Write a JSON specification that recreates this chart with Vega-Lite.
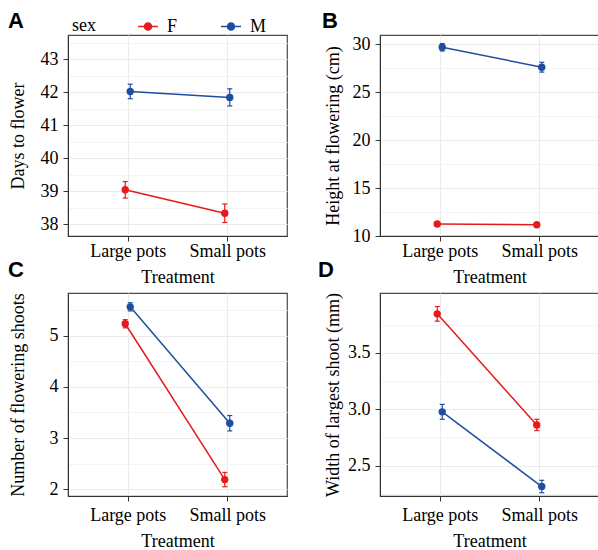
{
  "$schema": "https://vega.github.io/schema/vega-lite/v6.json",
  "padding": {"left": 7, "top": 9, "right": 0, "bottom": 0},
  "background": "white",
  "config": {
    "font": "Liberation Serif",
    "view": {"stroke": "#4d4d4d", "strokeWidth": 1.2},
    "axis": {
      "labelFont": "Liberation Serif", "labelFontSize": 18, "labelColor": "#000",
      "titleFont": "Liberation Serif", "titleFontSize": 18, "titleFontWeight": "normal", "titleColor": "#000",
      "domainColor": "#333", "domainWidth": 1, "tickColor": "#333", "tickSize": 5, "tickWidth": 1,
      "gridColor": "#ebebeb", "gridWidth": 1
    },
    "axisX": {"labelAngle": 0, "labelPadding": 1, "titleBaseline": "alphabetic", "grid": true},
    "axisY": {"labelPadding": 5, "titleBaseline": "alphabetic"},
    "legend": {"labelFont": "Liberation Serif", "titleFont": "Liberation Serif"},
    "title": {"font": "Liberation Sans", "fontSize": 22, "fontWeight": "bold", "color": "#000", "anchor": "start", "frame": "group", "baseline": "alphabetic"}
  },
  "data": {"values": [
    {"panel": "A", "treatment": "Large pots", "sex": "F", "mean": 39.04, "lo": 38.79, "hi": 39.29},
    {"panel": "A", "treatment": "Small pots", "sex": "F", "mean": 38.33, "lo": 38.05, "hi": 38.61},
    {"panel": "A", "treatment": "Large pots", "sex": "M", "mean": 42.02, "lo": 41.80, "hi": 42.24},
    {"panel": "A", "treatment": "Small pots", "sex": "M", "mean": 41.84, "lo": 41.58, "hi": 42.10},
    {"panel": "B", "treatment": "Large pots", "sex": "F", "mean": 11.25, "lo": 11.12, "hi": 11.38},
    {"panel": "B", "treatment": "Small pots", "sex": "F", "mean": 11.17, "lo": 11.04, "hi": 11.30},
    {"panel": "B", "treatment": "Large pots", "sex": "M", "mean": 29.69, "lo": 29.3, "hi": 30.08},
    {"panel": "B", "treatment": "Small pots", "sex": "M", "mean": 27.61, "lo": 27.1, "hi": 28.12},
    {"panel": "C", "treatment": "Large pots", "sex": "F", "mean": 5.23, "lo": 5.15, "hi": 5.31},
    {"panel": "C", "treatment": "Small pots", "sex": "F", "mean": 2.19, "lo": 2.05, "hi": 2.33},
    {"panel": "C", "treatment": "Large pots", "sex": "M", "mean": 5.56, "lo": 5.48, "hi": 5.64},
    {"panel": "C", "treatment": "Small pots", "sex": "M", "mean": 3.29, "lo": 3.14, "hi": 3.44},
    {"panel": "D", "treatment": "Large pots", "sex": "F", "mean": 3.845, "lo": 3.78, "hi": 3.91},
    {"panel": "D", "treatment": "Small pots", "sex": "F", "mean": 2.86, "lo": 2.81, "hi": 2.91},
    {"panel": "D", "treatment": "Large pots", "sex": "M", "mean": 2.976, "lo": 2.91, "hi": 3.042},
    {"panel": "D", "treatment": "Small pots", "sex": "M", "mean": 2.314, "lo": 2.259, "hi": 2.369}
  ]},
  "columns": 2,
  "spacing": {"row": 57, "column": 93},
  "bounds": "flush",
  "concat": [
    {
      "width": 219, "height": 201,
      "title": {"text": "A", "dx": -60, "offset": 2},
      "transform": [{"filter": "datum.panel === 'A'"}],
      "resolve": {"axis": {"y": "independent"}},
      "encoding": {
        "x": {"field": "treatment", "type": "nominal", "scale": {"type": "point", "padding": 0.6}, "axis": {"title": "Treatment", "titleY": 46}},
        "xOffset": {"field": "sex", "type": "nominal", "scale": {"type": "point", "range": [-2.5, 2.5], "padding": 0}},
        "color": {"field": "sex", "type": "nominal", "scale": {"domain": ["F", "M"], "range": ["#E41A1C", "#1F4E9E"]},
          "legend": {"orient": "none", "legendX": 4, "legendY": -19.5, "direction": "horizontal", "title": "sex", "titleOrient": "left", "titleAngle": 0, "titleAnchor": "middle", "titleBaseline": "middle",
            "titleFontSize": 18, "titleFontWeight": "normal", "titleColor": "#000", "titlePadding": 41,
            "labelFontSize": 18, "labelColor": "#000", "labelOffset": 8, "columnPadding": 40,
            "symbolType": "M-1,0H1M-0.35,0A0.35,0.35 0 1 0 0.35,0A0.35,0.35 0 1 0 -0.35,0Z", "symbolSize": 400, "symbolStrokeWidth": 1.5, "symbolOpacity": 1}}
      },
      "layer": [
        {"mark": {"type": "rule", "strokeWidth": 1.2}, "encoding": {"y": {"field": "lo", "type": "quantitative", "scale": {"domain": [37.64, 43.73], "zero": false, "nice": false},
          "axis": {"orient": "left", "values": [38.5, 39.5, 40.5, 41.5, 42.5, 43.5], "labels": false, "ticks": false, "domain": false, "title": null, "grid": true, "gridColor": "#f4f4f4"}}, "y2": {"field": "hi"}}},
        {"mark": {"type": "line", "strokeWidth": 1.5}, "encoding": {"y": {"field": "mean", "type": "quantitative", "scale": {"domain": [37.64, 43.73], "zero": false, "nice": false},
          "axis": {"orient": "left", "title": "Days to flower", "titleX": -45, "values": [38, 39, 40, 41, 42, 43], "grid": true}}}},
        {"mark": {"type": "tick", "size": 5, "thickness": 1.2, "opacity": 1, "orient": "horizontal"}, "encoding": {"y": {"field": "lo", "type": "quantitative", "scale": {"domain": [37.64, 43.73], "zero": false, "nice": false}, "axis": null}}},
        {"mark": {"type": "tick", "size": 5, "thickness": 1.2, "opacity": 1, "orient": "horizontal"}, "encoding": {"y": {"field": "hi", "type": "quantitative", "scale": {"domain": [37.64, 43.73], "zero": false, "nice": false}, "axis": null}}},
        {"mark": {"type": "point", "filled": true, "size": 55, "opacity": 1}, "encoding": {"y": {"field": "mean", "type": "quantitative", "scale": {"domain": [37.64, 43.73], "zero": false, "nice": false}, "axis": null}}}
      ]
    },
    {
      "width": 219, "height": 201,
      "title": {"text": "B", "dx": -58, "offset": 2},
      "transform": [{"filter": "datum.panel === 'B'"}],
      "resolve": {"axis": {"y": "independent"}},
      "encoding": {
        "x": {"field": "treatment", "type": "nominal", "scale": {"type": "point", "padding": 0.6}, "axis": {"title": "Treatment", "titleY": 46}},
        "xOffset": {"field": "sex", "type": "nominal", "scale": {"type": "point", "range": [-2.5, 2.5], "padding": 0}},
        "color": {"field": "sex", "type": "nominal", "scale": {"domain": ["F", "M"], "range": ["#E41A1C", "#1F4E9E"]},
          "legend": {"orient": "none", "legendX": 4, "legendY": -19.5, "direction": "horizontal", "title": "sex", "titleOrient": "left", "titleAngle": 0, "titleAnchor": "middle", "titleBaseline": "middle",
            "titleFontSize": 18, "titleFontWeight": "normal", "titleColor": "#000", "titlePadding": 41,
            "labelFontSize": 18, "labelColor": "#000", "labelOffset": 8, "columnPadding": 40,
            "symbolType": "M-1,0H1M-0.35,0A0.35,0.35 0 1 0 0.35,0A0.35,0.35 0 1 0 -0.35,0Z", "symbolSize": 400, "symbolStrokeWidth": 1.5, "symbolOpacity": 1}}
      },
      "layer": [
        {"mark": {"type": "rule", "strokeWidth": 1.2}, "encoding": {"y": {"field": "lo", "type": "quantitative", "scale": {"domain": [10, 30.97], "zero": false, "nice": false},
          "axis": {"orient": "left", "values": [12.5, 17.5, 22.5, 27.5], "labels": false, "ticks": false, "domain": false, "title": null, "grid": true, "gridColor": "#f4f4f4"}}, "y2": {"field": "hi"}}},
        {"mark": {"type": "line", "strokeWidth": 1.5}, "encoding": {"y": {"field": "mean", "type": "quantitative", "scale": {"domain": [10, 30.97], "zero": false, "nice": false},
          "axis": {"orient": "left", "title": "Height at flowering (cm)", "titleX": -42, "values": [10, 15, 20, 25, 30], "grid": true}}}},
        {"mark": {"type": "tick", "size": 5, "thickness": 1.2, "opacity": 1, "orient": "horizontal"}, "encoding": {"y": {"field": "lo", "type": "quantitative", "scale": {"domain": [10, 30.97], "zero": false, "nice": false}, "axis": null}}},
        {"mark": {"type": "tick", "size": 5, "thickness": 1.2, "opacity": 1, "orient": "horizontal"}, "encoding": {"y": {"field": "hi", "type": "quantitative", "scale": {"domain": [10, 30.97], "zero": false, "nice": false}, "axis": null}}},
        {"mark": {"type": "point", "filled": true, "size": 55, "opacity": 1}, "encoding": {"y": {"field": "mean", "type": "quantitative", "scale": {"domain": [10, 30.97], "zero": false, "nice": false}, "axis": null}}}
      ]
    },
    {
      "width": 219, "height": 203,
      "title": {"text": "C", "dx": -60, "offset": 11},
      "transform": [{"filter": "datum.panel === 'C'"}],
      "resolve": {"axis": {"y": "independent"}},
      "encoding": {
        "x": {"field": "treatment", "type": "nominal", "scale": {"type": "point", "padding": 0.6}, "axis": {"title": "Treatment", "titleY": 50, "labelPadding": 5}},
        "xOffset": {"field": "sex", "type": "nominal", "scale": {"type": "point", "range": [-2.5, 2.5], "padding": 0}},
        "color": {"field": "sex", "type": "nominal", "scale": {"domain": ["F", "M"], "range": ["#E41A1C", "#1F4E9E"]},
          "legend": {"orient": "none", "legendX": 4, "legendY": -19.5, "direction": "horizontal", "title": "sex", "titleOrient": "left", "titleAngle": 0, "titleAnchor": "middle", "titleBaseline": "middle",
            "titleFontSize": 18, "titleFontWeight": "normal", "titleColor": "#000", "titlePadding": 41,
            "labelFontSize": 18, "labelColor": "#000", "labelOffset": 8, "columnPadding": 40,
            "symbolType": "M-1,0H1M-0.35,0A0.35,0.35 0 1 0 0.35,0A0.35,0.35 0 1 0 -0.35,0Z", "symbolSize": 400, "symbolStrokeWidth": 1.5, "symbolOpacity": 1}}
      },
      "layer": [
        {"mark": {"type": "rule", "strokeWidth": 1.2}, "encoding": {"y": {"field": "lo", "type": "quantitative", "scale": {"domain": [1.87, 5.83], "zero": false, "nice": false},
          "axis": {"orient": "left", "values": [2.5, 3.5, 4.5, 5.5], "labels": false, "ticks": false, "domain": false, "title": null, "grid": true, "gridColor": "#f4f4f4"}}, "y2": {"field": "hi"}}},
        {"mark": {"type": "line", "strokeWidth": 1.5}, "encoding": {"y": {"field": "mean", "type": "quantitative", "scale": {"domain": [1.87, 5.83], "zero": false, "nice": false},
          "axis": {"orient": "left", "title": "Number of flowering shoots", "titleX": -45, "values": [2, 3, 4, 5], "grid": true}}}},
        {"mark": {"type": "tick", "size": 5, "thickness": 1.2, "opacity": 1, "orient": "horizontal"}, "encoding": {"y": {"field": "lo", "type": "quantitative", "scale": {"domain": [1.87, 5.83], "zero": false, "nice": false}, "axis": null}}},
        {"mark": {"type": "tick", "size": 5, "thickness": 1.2, "opacity": 1, "orient": "horizontal"}, "encoding": {"y": {"field": "hi", "type": "quantitative", "scale": {"domain": [1.87, 5.83], "zero": false, "nice": false}, "axis": null}}},
        {"mark": {"type": "point", "filled": true, "size": 55, "opacity": 1}, "encoding": {"y": {"field": "mean", "type": "quantitative", "scale": {"domain": [1.87, 5.83], "zero": false, "nice": false}, "axis": null}}}
      ]
    },
    {
      "width": 219, "height": 203,
      "title": {"text": "D", "dx": -62, "offset": 11},
      "transform": [{"filter": "datum.panel === 'D'"}],
      "resolve": {"axis": {"y": "independent"}},
      "encoding": {
        "x": {"field": "treatment", "type": "nominal", "scale": {"type": "point", "padding": 0.6}, "axis": {"title": "Treatment", "titleY": 50, "labelPadding": 5}},
        "xOffset": {"field": "sex", "type": "nominal", "scale": {"type": "point", "range": [-2.5, 2.5], "padding": 0}},
        "color": {"field": "sex", "type": "nominal", "scale": {"domain": ["F", "M"], "range": ["#E41A1C", "#1F4E9E"]},
          "legend": {"orient": "none", "legendX": 4, "legendY": -19.5, "direction": "horizontal", "title": "sex", "titleOrient": "left", "titleAngle": 0, "titleAnchor": "middle", "titleBaseline": "middle",
            "titleFontSize": 18, "titleFontWeight": "normal", "titleColor": "#000", "titlePadding": 41,
            "labelFontSize": 18, "labelColor": "#000", "labelOffset": 8, "columnPadding": 40,
            "symbolType": "M-1,0H1M-0.35,0A0.35,0.35 0 1 0 0.35,0A0.35,0.35 0 1 0 -0.35,0Z", "symbolSize": 400, "symbolStrokeWidth": 1.5, "symbolOpacity": 1}}
      },
      "layer": [
        {"mark": {"type": "rule", "strokeWidth": 1.2}, "encoding": {"y": {"field": "lo", "type": "quantitative", "scale": {"domain": [2.23, 4.03], "zero": false, "nice": false},
          "axis": {"orient": "left", "values": [2.25, 2.75, 3.25, 3.75], "labels": false, "ticks": false, "domain": false, "title": null, "grid": true, "gridColor": "#f4f4f4"}}, "y2": {"field": "hi"}}},
        {"mark": {"type": "line", "strokeWidth": 1.5}, "encoding": {"y": {"field": "mean", "type": "quantitative", "scale": {"domain": [2.23, 4.03], "zero": false, "nice": false},
          "axis": {"orient": "left", "title": "Width of largest shoot (mm)", "titleX": -42, "values": [2.5, 3, 3.5], "format": ".1f", "grid": true}}}},
        {"mark": {"type": "tick", "size": 5, "thickness": 1.2, "opacity": 1, "orient": "horizontal"}, "encoding": {"y": {"field": "lo", "type": "quantitative", "scale": {"domain": [2.23, 4.03], "zero": false, "nice": false}, "axis": null}}},
        {"mark": {"type": "tick", "size": 5, "thickness": 1.2, "opacity": 1, "orient": "horizontal"}, "encoding": {"y": {"field": "hi", "type": "quantitative", "scale": {"domain": [2.23, 4.03], "zero": false, "nice": false}, "axis": null}}},
        {"mark": {"type": "point", "filled": true, "size": 55, "opacity": 1}, "encoding": {"y": {"field": "mean", "type": "quantitative", "scale": {"domain": [2.23, 4.03], "zero": false, "nice": false}, "axis": null}}}
      ]
    }
  ]
}
